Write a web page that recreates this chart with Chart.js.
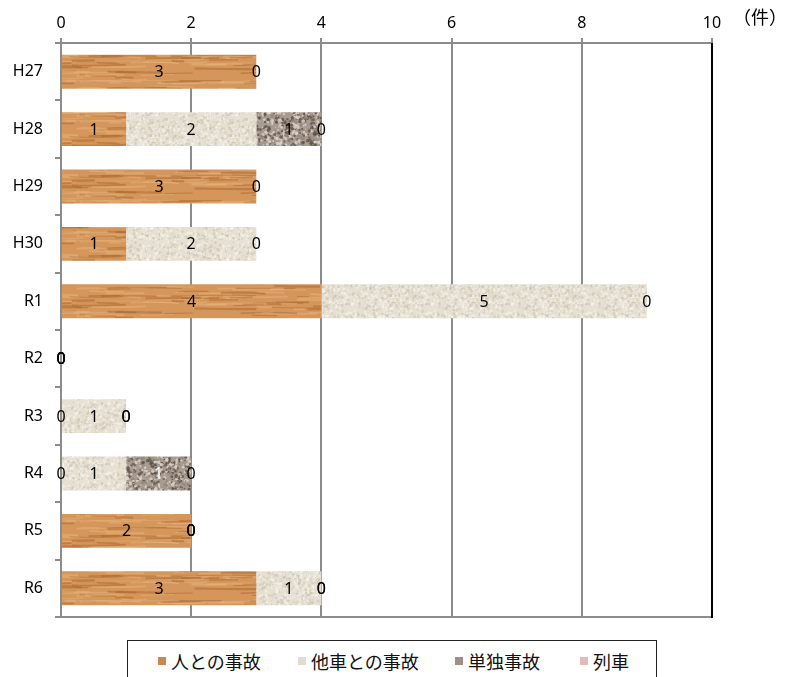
<!DOCTYPE html>
<html lang="ja">
<head>
<meta charset="utf-8">
<script src="https://cdn.jsdelivr.net/npm/chart.js@4.4.1/dist/chart.umd.min.js"></script>
<style>
  html, body { margin: 0; padding: 0; background: #fff; }
  #wrap { position: relative; width: 785px; height: 677px; overflow: hidden; }
  #legend {
    position: absolute; left: 127px; top: 640px; width: 530px; height: 44px;
    border: 1.5px solid #222; box-sizing: border-box; background: #fff;
    font-family: "Noto Sans CJK JP", "Noto Sans", sans-serif; font-size: 18px; color: #111;
  }
  .item { position: absolute; top: 7px; display: flex; align-items: center; gap: 5px; white-space: nowrap; }
  .sw { width: 8px; height: 8px; }
</style>
</head>
<body>
<div id="wrap">
  <canvas id="c" width="785" height="677"></canvas>
  <div id="legend"></div>
</div>
<script>
const categories = ['H27', 'H28', 'H29', 'H30', 'R1', 'R2', 'R3', 'R4', 'R5', 'R6'];
const seriesNames = ['人との事故', '他車との事故', '単独事故', '列車'];
const hito   = [3, 1, 3, 1, 4, 0, 0, 0, 2, 3];
const tasha  = [null, 2, null, 2, 5, 0, 1, 1, 0, 1];
const tandoku = [null, 1, null, null, null, 0, 0, 1, 0, 0];
const ressha = [0, 0, 0, 0, 0, 0, 0, 0, 0, 0];
const xTicks = [0, 2, 4, 6, 8, 10];
const unitLabel = '（件）';

// label colour for each series (単独 R4 is white in the original)
const labelColors = [
  Array(10).fill('#000'),
  Array(10).fill('#000'),
  ['#000', '#000', '#000', '#000', '#000', '#000', '#000', '#fff', '#000', '#000'],
  Array(10).fill('#000')
];

// small seeded generator just for texture speckle
let seed = 7;
function rnd() { seed = (seed * 16807) % 2147483647; return (seed - 1) / 2147483646; }

function makePattern(kind) {
  const cv = document.createElement('canvas');
  const w = kind === 'wood' ? 600 : 80, h = kind === 'wood' ? 40 : 80;
  cv.width = w; cv.height = h;
  const g = cv.getContext('2d');
  if (kind === 'wood') {
    g.fillStyle = '#d4965a'; g.fillRect(0, 0, w, h);
    for (let i = 0; i < 260; i++) {
      const y = rnd() * h, x = rnd() * w, len = 10 + rnd() * 60;
      g.strokeStyle = rnd() < 0.55 ? 'rgba(165,95,40,0.45)' : 'rgba(232,182,128,0.5)';
      g.lineWidth = 0.8 + rnd() * 1.5;
      g.beginPath(); g.moveTo(x, y); g.quadraticCurveTo(x + len / 2, y + (rnd() - 0.5) * 3, x + len, y + (rnd() - 0.5) * 2); g.stroke();
    }
  } else if (kind === 'beige') {
    g.fillStyle = '#e6e0d2'; g.fillRect(0, 0, w, h);
    for (let i = 0; i < 900; i++) {
      g.fillStyle = rnd() < 0.5 ? 'rgba(200,190,170,0.5)' : 'rgba(245,242,235,0.7)';
      g.fillRect(rnd() * w, rnd() * h, 1 + rnd() * 2, 1 + rnd() * 2);
    }
  } else if (kind === 'granite') {
    g.fillStyle = '#a89b90'; g.fillRect(0, 0, w, h);
    for (let i = 0; i < 1200; i++) {
      const r = rnd();
      g.fillStyle = r < 0.4 ? 'rgba(95,82,74,0.8)' : (r < 0.75 ? 'rgba(220,212,204,0.8)' : 'rgba(150,135,122,0.8)');
      g.beginPath(); g.arc(rnd() * w, rnd() * h, 0.6 + rnd() * 1.2, 0, Math.PI * 2); g.fill();
    }
  } else {
    g.fillStyle = '#e6b8b7'; g.fillRect(0, 0, w, h);
  }
  return document.getElementById('c').getContext('2d').createPattern(cv, 'repeat');
}

const fills = [makePattern('wood'), makePattern('beige'), makePattern('granite'), makePattern('pink')];
const swatchColors = ['#c98a52', '#e3ddcf', '#9c8f86', '#e6b8b7'];

const labelPlugin = {
  id: 'segLabels',
  afterDatasetsDraw(chart) {
    const ctx = chart.ctx;
    ctx.save();
    ctx.font = '16px "Noto Sans", sans-serif';
    ctx.textAlign = 'center';
    ctx.textBaseline = 'middle';
    chart.data.datasets.forEach((ds, di) => {
      chart.getDatasetMeta(di).data.forEach((el, i) => {
        const v = ds.data[i];
        if (v === null || v === undefined) return;
        ctx.fillStyle = labelColors[di][i];
        ctx.fillText(String(v), (el.x + el.base) / 2, el.y + 1);
      });
    });
    ctx.restore();
  },
  afterDraw(chart) {
    const a = chart.chartArea, ctx = chart.ctx;
    ctx.save();
    ctx.strokeStyle = '#8c8c8c'; ctx.lineWidth = 2;
    ctx.beginPath(); ctx.moveTo(a.left - 1, a.bottom); ctx.lineTo(a.right, a.bottom); ctx.stroke();
    ctx.strokeStyle = '#000';
    ctx.beginPath(); ctx.moveTo(a.right, a.top); ctx.lineTo(a.right, a.bottom + 1); ctx.stroke();
    ctx.fillStyle = '#000';
    ctx.font = '18px "Noto Sans CJK JP", sans-serif';
    ctx.textAlign = 'left'; ctx.textBaseline = 'middle';
    ctx.fillText(unitLabel, 733, 17);
    ctx.restore();
  }
};

const seriesData = [hito, tasha, tandoku, ressha];

new Chart(document.getElementById('c'), {
  type: 'bar',
  data: {
    labels: categories,
    datasets: seriesNames.map((name, i) => ({
      label: name,
      data: seriesData[i],
      backgroundColor: fills[i],
      borderWidth: 0,
      barPercentage: 0.59,
      categoryPercentage: 1
    }))
  },
  options: {
    indexAxis: 'y',
    responsive: false,
    animation: false,
    layout: { padding: { top: 0, right: 73, bottom: 60, left: 0 } },
    plugins: { legend: { display: false }, tooltip: { enabled: false } },
    scales: {
      x: {
        stacked: true,
        position: 'top',
        min: 0,
        max: 10,
        afterBuildTicks: s => { s.ticks = xTicks.map(v => ({ value: v })); },
        afterFit: s => { s.height = 43; },
        ticks: { color: '#000', padding: 5, font: { size: 16, family: '"Noto Sans", sans-serif' } },
        grid: { color: '#8c8c8c', lineWidth: 2, tickLength: 5 },
        border: { color: '#8c8c8c', width: 2 }
      },
      y: {
        stacked: true,
        afterFit: s => { s.width = 61; },
        ticks: { color: '#000', padding: 12, font: { size: 16, family: '"Noto Sans", sans-serif' } },
        grid: { offset: true, drawOnChartArea: false, color: '#8c8c8c', lineWidth: 2, tickLength: 6 },
        border: { color: '#8c8c8c', width: 2 }
      }
    }
  },
  plugins: [labelPlugin]
});

const legendEl = document.getElementById('legend');
const legendX = [30, 170, 327, 452];
seriesNames.forEach((name, i) => {
  legendEl.innerHTML += `<div class="item" style="left:${legendX[i]}px"><div class="sw" style="background:${swatchColors[i]}"></div><span>${name}</span></div>`;
});
</script>
</body>
</html>
